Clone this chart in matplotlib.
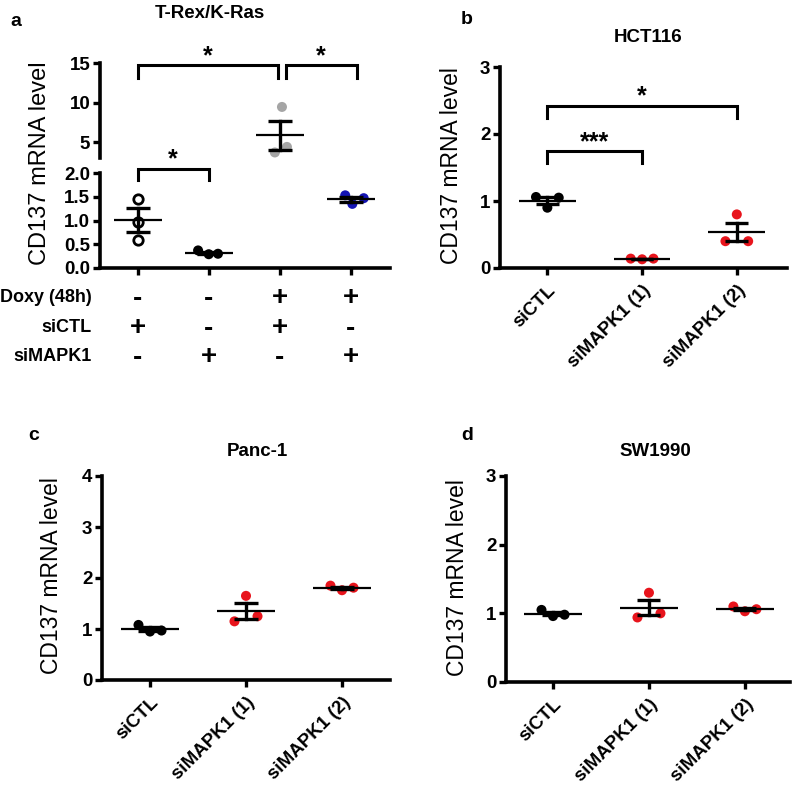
import numpy as np
import matplotlib
matplotlib.use("Agg")
import matplotlib.pyplot as plt

plt.rcParams['font.family'] = ['Liberation Sans', 'DejaVu Sans']
plt.rcParams['font.weight'] = 'bold'

# ---------------- data ----------------
# Panel a: T-Rex/K-Ras
a_title = "T-Rex/K-Ras"
a_g1 = [1.45, 0.97, 0.60]   # Doxy-, siCTL (open circles)
a_g2 = [0.37, 0.29, 0.30]   # Doxy-, siMAPK1
a_g3 = [9.45, 4.40, 3.70]   # Doxy+, siCTL (grey)
a_g4 = [1.53, 1.35, 1.47]   # Doxy+, siMAPK1 (blue)
a_row_labels = ["Doxy (48h)", "siCTL", "siMAPK1"]
a_row_doxy = ["-", "-", "+", "+"]
a_row_sictl = ["+", "-", "+", "-"]
a_row_simapk = ["-", "+", "-", "+"]
a_upper_ticks = [5, 10, 15]
a_lower_ticks = [0.0, 0.5, 1.0, 1.5, 2.0]

# Panels b-d
cats = ["siCTL", "siMAPK1 (1)", "siMAPK1 (2)"]
b_title = "HCT116"
b_ctl = [1.06, 0.90, 1.05]
b_m1 = [0.14, 0.13, 0.14]
b_m2 = [0.40, 0.80, 0.40]
c_title = "Panc-1"
c_ctl = [1.08, 0.95, 0.97]
c_m1 = [1.15, 1.65, 1.25]
c_m2 = [1.85, 1.76, 1.81]
d_title = "SW1990"
d_ctl = [1.05, 0.96, 0.98]
d_m1 = [0.94, 1.30, 1.00]
d_m2 = [1.10, 1.03, 1.06]

ylabel = "CD137 mRNA level"

BLACK = "#000000"
RED = "#e8141c"
GREY = "#a5a5a5"
BLUE = "#1414b4"

W, H = 797, 786
fig = plt.figure(figsize=(W / 100, H / 100), dpi=100)


def px_axes(left, top, right, bottom):
    return fig.add_axes([left / W, 1 - bottom / H, (right - left) / W, (bottom - top) / H])


SPINE_LW = 2.6
YTICK_FS = 13.5
XTICK_FS = 13.5
TITLE_FS = 13.5
YLAB_FS = 16.5


def style(ax, bottom=True):
    for s in ["top", "right"]:
        ax.spines[s].set_visible(False)
    ax.spines["left"].set_linewidth(SPINE_LW)
    if bottom:
        ax.spines["bottom"].set_linewidth(SPINE_LW)
    else:
        ax.spines["bottom"].set_visible(False)
    ax.tick_params(axis="y", direction="out", length=5, width=2.4, labelsize=YTICK_FS, pad=2)
    ax.tick_params(axis="x", direction="out", length=5, width=2.4, labelsize=XTICK_FS, pad=5)
    for lab in ax.get_yticklabels():
        lab.set_fontweight("bold")


def draw_group(ax, x, vals, color, offs, mean_hw, cap_hw, open_marker=False):
    vals = np.asarray(vals, dtype=float)
    xs = x + np.asarray(offs)
    if open_marker:
        ax.scatter(xs, vals, s=46, facecolors="white", edgecolors="black", linewidths=2.0, zorder=3)
    else:
        ax.scatter(xs, vals, s=52, color=color, edgecolors="none", zorder=3)
    m = vals.mean()
    se = vals.std(ddof=1) / np.sqrt(len(vals))
    ax.plot([x - mean_hw, x + mean_hw], [m, m], color="black", lw=1.6, zorder=4, solid_capstyle="butt")
    for yy in (m - se, m + se):
        ax.plot([x - cap_hw, x + cap_hw], [yy, yy], color="black", lw=2.4, zorder=4, solid_capstyle="butt")
    ax.plot([x, x], [m - se, m + se], color="black", lw=2.4, zorder=4)


def bracket(ax, x1, x2, y, ydrop, star, sy, fs=18):
    ax.plot([x1, x1, x2, x2], [y - ydrop, y, y, y - ydrop], color="black", lw=2.2, clip_on=False,
            solid_joinstyle="miter")
    ax.text((x1 + x2) / 2, sy, star, ha="center", va="center", fontsize=fs, fontweight="bold",
            clip_on=False)


# ---------------- panel a ----------------
a_groups = [a_g1, a_g2, a_g3, a_g4]
a_colors = [BLACK, BLACK, GREY, BLUE]
a_offs = [[0, 0, 0], [-0.15, 0.0, 0.13], [0.03, 0.10, -0.07], [-0.08, 0.02, 0.18]]
xa = np.arange(4)
a_xlim = (-0.53, 3.55)

ax_up = px_axes(100, 63, 390, 158)
ax_lo = px_axes(100, 173, 390, 268)
for ax in (ax_up, ax_lo):
    ax.set_xlim(*a_xlim)
    for i, (g, c) in enumerate(zip(a_groups, a_colors)):
        draw_group(ax, xa[i], g, c, a_offs[i], 0.34, 0.17, open_marker=(i == 0))
ax_up.set_ylim(3, 15)
ax_up.set_yticks(a_upper_ticks)
ax_up.set_yticklabels([str(t) for t in a_upper_ticks])
ax_up.set_xticks([])
style(ax_up, bottom=False)
ax_lo.set_ylim(0, 2)
ax_lo.set_yticks(a_lower_ticks)
ax_lo.set_yticklabels([f"{t:.1f}" for t in a_lower_ticks])
ax_lo.set_xticks(xa)
ax_lo.set_xticklabels([])
style(ax_lo)

bracket(ax_up, 0.0, 1.97, 14.7, 1.6, "*", 15.9)
bracket(ax_up, 2.08, 3.08, 14.7, 1.6, "*", 15.9)
bracket(ax_lo, 0.0, 1.0, 2.08, 0.23, "*", 2.28)

fig.text(210 / W, 1 - 13 / H, a_title, ha="center", va="center", fontsize=TITLE_FS, fontweight="bold")
fig.text(10 / W, 1 - 22 / H, "a", ha="left", va="center", fontsize=14, fontweight="bold")
fig.text(40 / W, 1 - 163 / H, ylabel, ha="center", va="center", rotation=90, fontsize=17,
         fontweight="normal")

# condition table
row_y = [298, 328, 357]
for lab, yy in zip(a_row_labels, row_y):
    fig.text(92 / W, 1 - yy / H, lab, ha="right", va="center", fontsize=13, fontweight="bold")
for row, yy in zip([a_row_doxy, a_row_sictl, a_row_simapk], row_y):
    for i, s in enumerate(row):
        xd = ax_lo.transData.transform((xa[i], 0))[0]
        xfig = xd / fig.bbox.width
        if s == "+":
            fig.text(xfig, 1 - yy / H, "+", ha="center", va="center", fontsize=20, fontweight="bold")
        else:
            fig.text(xfig, 1 - (yy + 1) / H, "-", ha="center", va="center", fontsize=20, fontweight="bold")


# ---------------- panels b, c, d ----------------
def small_panel(box, xlim, title, title_xy, letter, letter_xy, ylab_xy, groups, ylim, yticks,
                brackets=()):
    ax = px_axes(*box)
    colors = [BLACK, RED, RED]
    offs = [-0.12, 0.0, 0.12]
    for i, (g, c) in enumerate(zip(groups, colors)):
        draw_group(ax, i, g, c, offs, 0.3, 0.12)
    ax.set_xlim(*xlim)
    ax.set_ylim(*ylim)
    ax.set_yticks(yticks)
    ax.set_yticklabels([str(t) for t in yticks])
    ax.set_xticks(range(len(cats)))
    ax.set_xticklabels(cats, rotation=45, ha="right", rotation_mode="anchor", fontweight="bold")
    style(ax)
    for b in brackets:
        bracket(ax, *b)
    fig.text(title_xy[0] / W, 1 - title_xy[1] / H, title, ha="center", va="center", fontsize=TITLE_FS,
             fontweight="bold")
    fig.text(letter_xy[0] / W, 1 - letter_xy[1] / H, letter, ha="left", va="center", fontsize=14,
             fontweight="bold")
    fig.text(ylab_xy[0] / W, 1 - ylab_xy[1] / H, ylabel, ha="center", va="center", rotation=90,
             fontsize=YLAB_FS, fontweight="normal")
    return ax


small_panel((500, 67, 787, 268), (-0.5, 2.53), b_title, (648, 37), "b", (461, 20), (452, 166),
            [b_ctl, b_m1, b_m2], (0, 3), [0, 1, 2, 3],
            brackets=[(0, 1, 1.74, 0.18, "***", 1.87), (0, 2, 2.42, 0.18, "*", 2.56)])
small_panel((102, 476, 390, 680), (-0.5, 2.5), c_title, (257, 452), "c", (28, 436), (52, 576),
            [c_ctl, c_m1, c_m2], (0, 4), [0, 1, 2, 3, 4])
small_panel((506, 476, 790, 682), (-0.49, 2.47), d_title, (655, 452), "d", (461, 435), (457, 578),
            [d_ctl, d_m1, d_m2], (0, 3), [0, 1, 2, 3])

fig.savefig("out.png", dpi=100)
